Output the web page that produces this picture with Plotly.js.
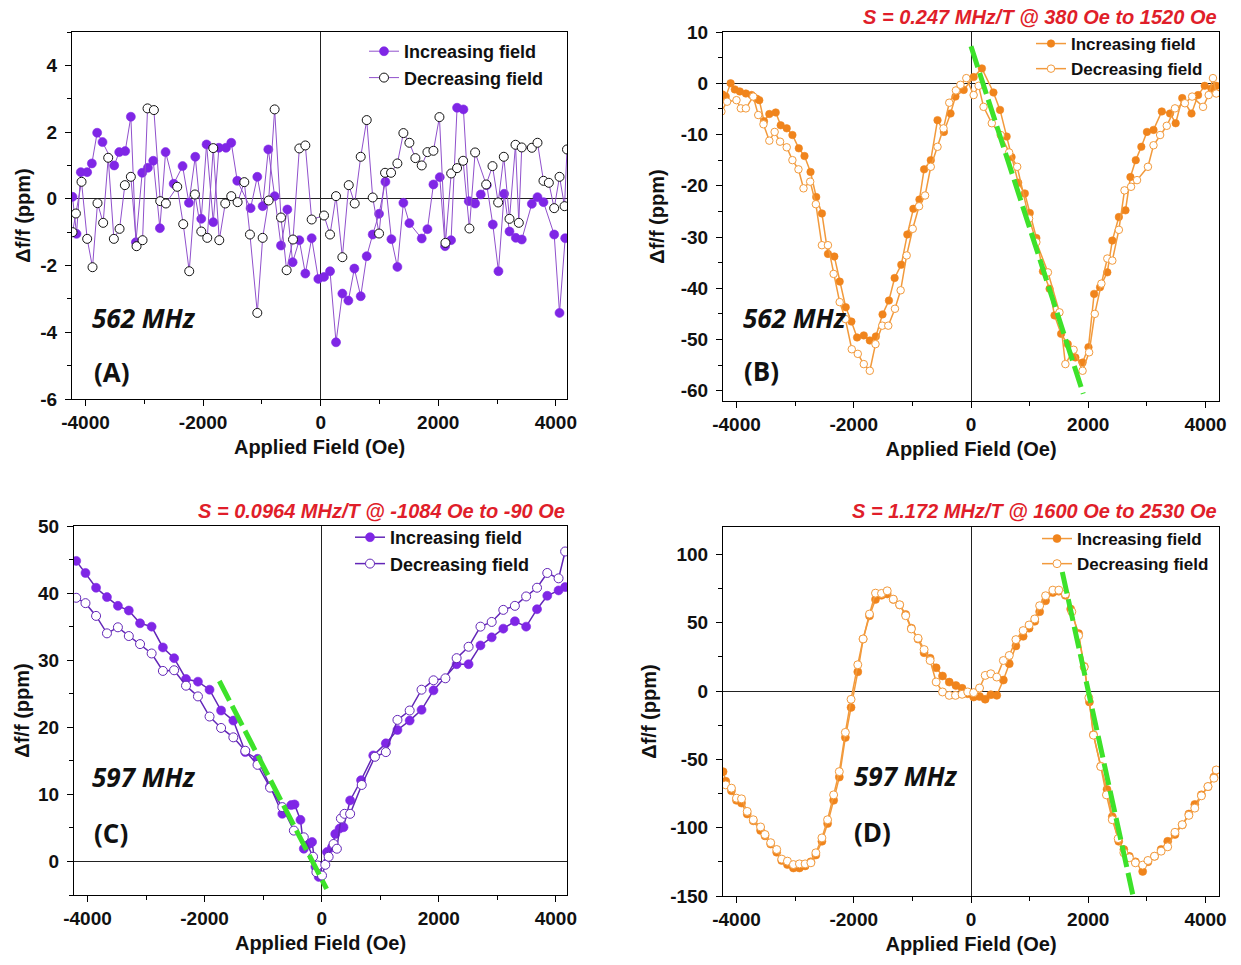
<!DOCTYPE html>
<html>
<head>
<meta charset="utf-8">
<script src="https://cdn.plot.ly/plotly-3.0.1.min.js"></script>
<style>html,body{margin:0;padding:0;background:#fff}#chart{width:1241px;height:965px}</style>
</head>
<body>
<div id="chart"></div>
<script>
// ---------- Panel A : 562 MHz ----------
const A_inc_x = [-4221,-4153,-4080,-3972,-3892,-3802,-3711,-3512,-3427,-3325,-3229,-3143,-3036,-2939,-2848,-2735,-2638,-2500,-2349,-2241,-2133,-2031,-1941,-1827,-1731,-1611,-1521,-1419,-1192,-1078,-987,-891,-783,-675,-567,-477,-363,-261,-153,-40,57,159,261,369,471,573,681,783,885,993,1101,1203,1305,1407,1509,1719,1816,1918,2026,2116,2218,2320,2428,2519,2627,2723,2826,2928,3024,3121,3212,3319,3421,3592,3688,3790,3972,4063,4159];
const A_inc_y = [0.06,-1.05,0.8,0.8,1.06,1.98,1.7,1.0,1.4,1.43,2.46,-1.3,0.78,0.93,1.14,-0.88,1.4,0.45,0.98,-0.12,1.26,-0.6,1.63,-0.7,1.53,1.53,1.68,0.54,-0.28,0.66,-0.22,1.48,0.08,-1.4,-0.32,-1.9,-1.24,-2.24,-1.18,-2.4,-2.34,-2.17,-4.3,-2.84,-3.05,-2.09,-2.92,-1.72,-1.07,-0.45,0.51,-1.21,-2.04,-0.12,-0.73,-1.19,-0.91,0.43,0.65,-1.42,-1.24,2.73,2.68,-0.07,-0.14,0.13,0.41,-0.77,-2.17,0.15,-0.98,-1.17,-1.22,-0.15,0.05,-0.1,-1.07,-3.42,-1.18];
const A_dec_x = [-4221,-4164,-4068,-3972,-3881,-3796,-3700,-3614,-3518,-3421,-3331,-3229,-3132,-3030,-2945,-2837,-2729,-2633,-2440,-2338,-2236,-2139,-2031,-1929,-1827,-1725,-1623,-1521,-1413,-1299,-1203,-1078,-987,-885,-783,-675,-579,-471,-363,-261,-153,57,159,261,369,477,579,681,783,885,993,1095,1197,1305,1407,1509,1611,1719,1816,1918,2020,2122,2220,2320,2423,2530,2627,2815,2923,3019,3115,3212,3314,3370,3420,3592,3688,3790,3881,3972,4063,4148,4190];
const A_dec_y = [-1.0,-0.44,0.51,-1.2,-2.05,-0.13,-0.72,1.23,-1.2,-0.9,0.41,0.66,-1.42,-1.24,2.71,2.66,-0.07,-0.14,0.36,-0.76,-2.17,0.13,-0.98,-1.17,1.52,-1.24,-0.14,0.08,-0.1,0.5,-1.07,-3.42,-1.17,-0.05,2.68,-0.56,-2.14,-1.22,1.51,1.6,-0.62,-0.5,-1.07,0.08,-1.75,0.41,-0.14,1.26,2.36,0.04,-1.04,0.78,0.78,1.06,1.97,1.68,1.22,1.0,1.4,1.44,2.45,-1.32,0.76,0.92,1.14,-0.89,1.39,0.43,0.98,-0.11,1.26,-0.6,1.62,-0.72,1.54,1.53,1.68,0.54,0.48,-0.28,0.66,-0.22,1.48];

// ---------- Panel B : 562 MHz ----------
const B_inc_x = [-4240,-4183,-4100,-4029,-3943,-3840,-3743,-3657,-3611,-3531,-3440,-3331,-3246,-3143,-3046,-2937,-2840,-2737,-2640,-2543,-2440,-2331,-2240,-2137,-2040,-1943,-1829,-1726,-1623,-1509,-1400,-1303,-1189,-1086,-983,-880,-800,-686,-571,-462,-349,-265,-124,45,186,383,495,608,692,805,918,1002,1115,1227,1340,1424,1537,1650,1780,1903,2004,2100,2201,2325,2410,2522,2635,2719,2810,2905,3001,3113,3254,3395,3491,3603,3761,3873,3986,4099,4183];
const B_inc_y = [-2.2,-2.6,0.0,-1.2,-1.6,-2.0,-2.3,-3.0,-3.3,-7.4,-6.0,-5.7,-8.2,-8.8,-10.1,-12.7,-14.2,-17.3,-22.2,-25.4,-33.3,-33.8,-38.7,-43.7,-46.5,-49.6,-49.2,-50.2,-49.4,-45.1,-42.4,-38.0,-35.4,-29.5,-24.5,-22.7,-16.8,-15.0,-7.2,-9.5,-5.9,-2.6,-1.3,1.2,2.9,-1.8,-5.2,-10.4,-14.4,-19.4,-21.5,-25.3,-30.2,-36.7,-40.1,-45.3,-48.9,-50.9,-53.5,-54.5,-51.5,-41.1,-39.8,-36.9,-30.7,-26.1,-24.8,-18.3,-15.0,-12.4,-9.5,-9.1,-5.5,-5.9,-7.8,-2.9,-5.9,-2.3,-0.5,-1.0,-0.5];
const B_dec_x = [-4257,-4160,-4000,-3926,-3840,-3714,-3629,-3540,-3440,-3349,-3257,-3143,-3046,-2943,-2857,-2743,-2646,-2543,-2440,-2343,-2240,-2143,-2034,-1931,-1829,-1726,-1629,-1514,-1411,-1297,-1200,-1097,-994,-886,-783,-686,-571,-469,-371,-257,-180,-80,45,130,214,355,507,650,788,991,1115,1312,1509,1610,1750,1903,2015,2111,2224,2325,2410,2522,2618,2730,2832,3018,3113,3226,3339,3479,3648,3772,3958,4054,4127,4183];
const B_dec_y = [-5.5,-3.6,-3.3,-4.9,-4.9,-2.6,-6.2,-8.0,-11.2,-9.5,-11.4,-12.5,-15.0,-16.8,-20.5,-19.2,-23.6,-31.6,-31.6,-37.2,-42.7,-46.0,-51.9,-52.8,-54.8,-56.1,-50.9,-47.3,-47.3,-44.0,-40.4,-33.6,-28.4,-24.0,-21.9,-16.3,-12.4,-8.8,-3.8,-1.4,-0.3,1.0,-2.3,-0.5,-4.6,-7.8,-10.1,-13.5,-16.3,-26.4,-31.0,-36.9,-44.7,-54.8,-52.0,-56.1,-52.5,-45.0,-39.1,-34.2,-34.6,-28.6,-20.9,-20.2,-18.9,-16.3,-12.1,-10.1,-8.3,-4.9,-3.9,-2.6,-4.6,-2.3,1.0,-2.0];
const B_fit_x = [0, 1915];
const B_fit_y = [7.2, -60.6];

// ---------- Panel C : 597 MHz ----------
const C_inc_x = [-4192,-4034,-3853,-3667,-3480,-3294,-3102,-2904,-2712,-2520,-2317,-2113,-1915,-1718,-1509,-1305,-1096,-881,-672,-520,-463,-362,-305,-220,-164,-107,-51,90,175,232,305,373,486,672,881,1096,1294,1503,1706,1910,2305,2509,2712,2904,3102,3300,3492,3678,3853,4046,4158];
const C_inc_y = [44.8,43.0,40.8,39.4,38.1,37.4,35.5,35.0,31.9,30.3,27.2,26.8,25.6,22.5,21.0,16.3,15.3,11.2,7.1,8.4,8.5,6.2,1.9,2.6,2.9,-0.8,-2.3,1.4,2.1,4.1,4.9,5.1,9.1,12.1,15.8,17.6,19.6,21.0,22.6,25.5,29.4,29.4,32.2,33.4,34.7,35.8,35.0,37.6,39.6,40.4,40.9];
const C_dec_x = [-4192,-4034,-3853,-3667,-3480,-3294,-3102,-2904,-2712,-2520,-2317,-2113,-1915,-1718,-1509,-1305,-1096,-881,-672,-475,-305,-147,-90,-68,6,62,119,203,260,328,390,486,684,910,1096,1294,1503,1706,1910,2113,2305,2509,2712,2904,3102,3300,3492,3678,3853,4046,4158];
const C_dec_y = [39.3,38.5,36.6,34.0,34.9,33.6,32.4,31.0,28.4,28.5,26.2,24.6,21.6,19.9,18.5,16.5,14.4,11.0,8.1,4.6,3.6,0.7,-1.6,-0.6,-2.1,-0.5,0.7,2.6,1.9,6.4,7.1,7.1,11.4,15.6,16.3,21.1,22.5,25.6,27.0,27.3,30.3,32.0,35.0,35.7,37.5,38.1,39.5,40.8,43.0,42.2,46.2];
const C_fit_x = [-1748, 85];
const C_fit_y = [26.9, -4.1];

// ---------- Panel D : 597 MHz ----------
const D_inc_x = [-4228,-4183,-4086,-4000,-3914,-3817,-3714,-3589,-3514,-3417,-3314,-3229,-3131,-3029,-2926,-2829,-2731,-2646,-2543,-2446,-2343,-2246,-2143,-2046,-1931,-1840,-1731,-1629,-1526,-1429,-1326,-1217,-1114,-1017,-903,-800,-697,-594,-486,-371,-257,-152,-56,45,146,242,338,439,552,653,766,890,991,1087,1171,1272,1396,1498,1610,1700,1835,1931,2020,2089,2213,2320,2410,2520,2607,2700,2804,2928,3018,3130,3243,3355,3479,3603,3716,3817,3930,4042,4144,4183];
const D_inc_y = [-59,-66,-73,-80,-82,-90,-95,-102,-106,-112,-118,-124,-127,-129.5,-129.5,-128,-125,-120,-110,-97,-80,-63,-34,-12,14,38,55,67,70,71,67,63,56,46,38,28,24,17,11,6.5,4,2,-2,-4.4,-4,-6,-2.7,-3.2,8,20,33,40,46,51,58,66,72,73,70,60,42,18,-8,-32,-55,-72,-92,-110,-116,-121,-125,-132,-125,-121,-116,-110,-105,-98,-90,-83,-76,-70,-63,-58];
const D_dec_x = [-4183,-4086,-4000,-3914,-3817,-3714,-3589,-3514,-3417,-3314,-3229,-3131,-3029,-2926,-2829,-2731,-2646,-2543,-2446,-2343,-2246,-2143,-2046,-1931,-1840,-1731,-1629,-1526,-1429,-1326,-1217,-1114,-1017,-903,-800,-697,-594,-486,-371,-265,-152,-56,45,146,242,338,439,552,653,766,890,991,1087,1171,1272,1396,1498,1610,1720,1835,1931,2010,2089,2213,2310,2410,2510,2607,2700,2804,2928,3018,3130,3243,3355,3479,3603,3716,3817,3930,4042,4144,4183];
const D_dec_y = [-68.7,-71.1,-78.4,-78.9,-88.1,-94.2,-99.5,-105,-111,-116,-123,-124.5,-127,-126.5,-126.5,-125.7,-118.4,-107.5,-94.2,-76,-59,-30.3,-6.1,19.2,38.1,56.3,71.6,71.4,73.3,67.2,63.1,55.1,45.4,38.6,30.3,22.3,6.6,-0.7,-3.2,-3.2,-2.4,-0.7,-1.2,2.2,11.4,12.6,10.2,22.3,26,37.6,44.2,48.3,52.7,62.4,69.7,73.8,73.8,70.9,58,40.5,17.5,-5,-32.3,-55.3,-76,-94.2,-108,-118.4,-122,-125.7,-127.4,-124,-120.9,-117.2,-114,-103.4,-97.8,-91,-85.7,-76.7,-69.9,-63.8,-57.8];
const D_fit_x = [1557, 2767];
const D_fit_y = [87.1, -150.5];

// ---------- Texts / ticks ----------
const seriesNames = ['Increasing field', 'Decreasing field'];
const xTickVals = [-4000, -2000, 0, 2000, 4000];
const xTickText = ['-4000', '-2000', '0', '2000', '4000'];
const yTickA = [-6, -4, -2, 0, 2, 4];
const yTickB = [-60, -50, -40, -30, -20, -10, 0, 10];
const yTickC = [0, 10, 20, 30, 40, 50];
const yTickD = [-150, -100, -50, 0, 50, 100];
const fmt = v => String(v); // plain hyphen minus
const xTitle = 'Applied Field (Oe)';
const yTitle = 'Δf/f (ppm)';
const panelFreq = ['562 MHz', '562 MHz', '597 MHz', '597 MHz'];
const panelLabel = ['(A)', '(B)', '(C)', '(D)'];
const slopeTitles = ['', 'S = 0.247 MHz/T @ 380 Oe to 1520 Oe', 'S = 0.0964 MHz/T @ -1084 Oe to -90 Oe', 'S = 1.172 MHz/T @ 1600 Oe to 2530 Oe'];

// ---------- styling ----------
const W = 1241, H = 965;
const PURPLE = '#7f26e6', PURPLE_LINE_A = '#9050cc', PURPLE_LINE_C = '#6326b8';
const ORANGE = '#f0841c', ORANGE_LINE = '#f29a3c', GREEN = '#3de22a', RED = '#e01e2a';
const ARIAL = 'Liberation Sans, Arial, sans-serif';
const CALI = 'Open Sans, Noto Sans, sans-serif';

// plot rectangles in pixels: [left, right, top, bottom]
const boxes = [[72, 567, 32, 399], [723, 1219, 32, 401], [74, 567, 526, 895], [723, 1219, 527, 896]];
const xdom = b => [b[0] / W, b[1] / W];
const ydom = b => [(H - b[3]) / H, (H - b[2]) / H];

function xax(i, range, standoff) {
  return {
    domain: xdom(boxes[i]), range: range, anchor: i === 0 ? 'y' : 'y' + (i + 1),
    showline: true, mirror: true, linecolor: '#000', linewidth: 1,
    ticks: 'outside', ticklen: 6, tickwidth: 1, tickcolor: '#000',
    tickmode: 'array', tickvals: xTickVals, ticktext: xTickText,
    minor: {tickmode: 'linear', tick0: 0, dtick: 1000, ticks: 'outside', ticklen: 4, tickcolor: '#000'},
    showgrid: false, zeroline: true, zerolinecolor: '#222', zerolinewidth: 1,
    tickfont: {family: ARIAL, size: 19, color: '#111', weight: 'bold'},
    title: {text: xTitle, font: {family: ARIAL, size: 20, color: '#111', weight: 'bold'}, standoff: standoff},
    automargin: false
  };
}
function yax(i, range, tv, dminor, standoff) {
  return {
    domain: ydom(boxes[i]), range: range, anchor: i === 0 ? 'x' : 'x' + (i + 1),
    showline: true, mirror: true, linecolor: '#000', linewidth: 1,
    ticks: 'outside', ticklen: 6, tickwidth: 1, tickcolor: '#000',
    tickmode: 'array', tickvals: tv, ticktext: tv.map(fmt),
    minor: {tickmode: 'linear', tick0: 0, dtick: dminor, ticks: 'outside', ticklen: 4, tickcolor: '#000'},
    showgrid: false, zeroline: true, zerolinecolor: '#222', zerolinewidth: 1,
    ticklabelstandoff: 4,
    tickfont: {family: ARIAL, size: 19, color: '#111', weight: 'bold'},
    title: {text: yTitle, font: {family: ARIAL, size: 20, color: '#111', weight: 'bold'}, standoff: standoff},
    automargin: false
  };
}

function ref(i) { return i === 0 ? ['x', 'y'] : ['x' + (i + 1), 'y' + (i + 1)]; }

function pair(i, xi, yi, xd, yd, lineColor, lineW, fillColor, openEdge, msize, legendId) {
  const [xa, ya] = ref(i);
  return [
    {x: xi, y: yi, xaxis: xa, yaxis: ya, type: 'scatter', mode: 'lines+markers', name: seriesNames[0],
     legend: legendId, line: {color: lineColor, width: lineW},
     marker: {symbol: 'circle', size: msize, color: fillColor, line: {color: fillColor, width: 0.6}}},
    {x: xd, y: yd, xaxis: xa, yaxis: ya, type: 'scatter', mode: 'lines+markers', name: seriesNames[1],
     legend: legendId, line: {color: lineColor, width: lineW},
     marker: {symbol: 'circle', size: msize, color: '#fff', line: {color: openEdge, width: 1}}}
  ];
}
function fit(i, fx, fy) {
  const [xa, ya] = ref(i);
  return {x: fx, y: fy, xaxis: xa, yaxis: ya, type: 'scatter', mode: 'lines', showlegend: false,
          line: {color: GREEN, width: 5, dash: '22px,6px'}, hoverinfo: 'skip'};
}

const data = [].concat(
  pair(0, A_inc_x, A_inc_y, A_dec_x, A_dec_y, PURPLE_LINE_A, 1, PURPLE, '#111', 9, 'legend'),
  pair(1, B_inc_x, B_inc_y, B_dec_x, B_dec_y, ORANGE_LINE, 1.5, ORANGE, ORANGE_LINE, 7.5, 'legend2'),
  pair(2, C_inc_x, C_inc_y, C_dec_x, C_dec_y, PURPLE_LINE_C, 1.5, PURPLE, PURPLE_LINE_C, 9, 'legend3'),
  pair(3, D_inc_x, D_inc_y, D_dec_x, D_dec_y, ORANGE_LINE, 1.5, ORANGE, ORANGE_LINE, 8, 'legend4'),
  [fit(1, B_fit_x, B_fit_y), fit(2, C_fit_x, C_fit_y), fit(3, D_fit_x, D_fit_y)]
);

function legendAt(px, py, size) {
  return {x: px / W, y: (H - py) / H, xanchor: 'left', yanchor: 'top', bgcolor: 'rgba(0,0,0,0)',
          borderwidth: 0, font: {family: ARIAL, size: size, color: '#111', weight: 'bold'},
          tracegroupgap: 0, itemwidth: 30};
}

const annotations = [];
const annPos = [[0.036, 0.221, 0.040, 0.074], [0.037, 0.225, 0.039, 0.081], [0.032, 0.32, 0.037, 0.168], [0.26, 0.325, 0.26, 0.173]];
for (let i = 0; i < 4; i++) {
  const [xa, ya] = ref(i);
  const p = annPos[i];
  annotations.push({xref: xa + ' domain', yref: ya + ' domain', x: p[0], y: p[1], xanchor: 'left', yanchor: 'middle',
    text: '<b><i>' + panelFreq[i] + '</i></b>', showarrow: false, font: {family: CALI, size: 26, color: '#111'}});
  annotations.push({xref: xa + ' domain', yref: ya + ' domain', x: p[2], y: p[3], xanchor: 'left', yanchor: 'middle',
    text: '<b>' + panelLabel[i] + '</b>', showarrow: false, font: {family: CALI, size: 26, color: '#111'}});
  if (slopeTitles[i]) {
    const cy = i === 1 ? 17 : 511;
    annotations.push({xref: xa + ' domain', yref: 'paper', x: 1.0, y: (H - cy) / H, xanchor: 'right', yanchor: 'middle',
      text: '<b><i>' + slopeTitles[i] + '</i></b>', showarrow: false, font: {family: ARIAL, size: 20, color: RED}});
  }
}

const layout = {
  width: W, height: H, margin: {l: 0, r: 0, t: 0, b: 0},
  paper_bgcolor: '#fff', plot_bgcolor: '#fff', showlegend: true,
  xaxis: xax(0, [-4230, 4190], 8), yaxis: yax(0, [-6, 5], yTickA, 1, 4),
  xaxis2: xax(1, [-4230, 4230], 8), yaxis2: yax(1, [-62, 10], yTickB, 5, 10),
  xaxis3: xax(2, [-4230, 4190], 8), yaxis3: yax(2, [-5, 50], yTickC, 5, 3),
  xaxis4: xax(3, [-4230, 4230], 8), yaxis4: yax(3, [-150, 120], yTickD, 25, 8),
  legend: legendAt(364, 33, 18),
  legend2: legendAt(1031, 26, 17),
  legend3: legendAt(350, 519, 18),
  legend4: legendAt(1037, 521, 17),
  annotations: annotations
};

Plotly.newPlot('chart', data, layout, {displayModeBar: false, staticPlot: true});
</script>
</body>
</html>
